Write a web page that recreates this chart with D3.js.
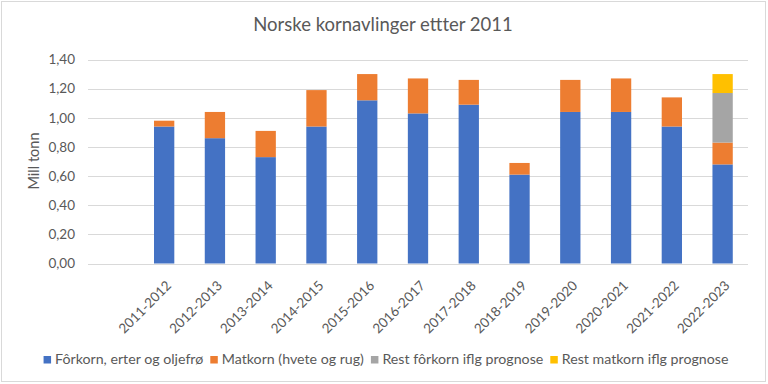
<!DOCTYPE html>
<html>
<head>
<meta charset="utf-8">
<script src="https://cdn.jsdelivr.net/npm/d3@7"></script>
<style>
    body { margin: 0; background: #fff; }
    text { font-family: Lato, "Open Sans", sans-serif; fill: #595959; }
</style>
</head>
<body>
<svg id="chart" width="768" height="384"></svg>
<script>
(function() {
    'use strict';

    // first category is blank, like the source spreadsheet
    var seasons = ['', '2011-2012', '2012-2013', '2013-2014', '2014-2015', '2015-2016',
                   '2016-2017', '2017-2018', '2018-2019', '2019-2020', '2020-2021',
                   '2021-2022', '2022-2023'];
    var forkorn     = [0, 0.94, 0.86, 0.73, 0.94, 1.12, 1.03, 1.09, 0.61, 1.04, 1.04, 0.94, 0.68];
    var matkorn     = [0, 0.04, 0.18, 0.18, 0.25, 0.18, 0.24, 0.17, 0.08, 0.22, 0.23, 0.20, 0.15];
    var restForkorn = [0, 0, 0, 0, 0, 0, 0, 0, 0, 0, 0, 0, 0.34];
    var restMatkorn = [0, 0, 0, 0, 0, 0, 0, 0, 0, 0, 0, 0, 0.13];
    var yTicks = [0, 0.2, 0.4, 0.6, 0.8, 1.0, 1.2, 1.4];

    var seriesNames = ['Fôrkorn, erter og oljefrø', 'Matkorn (hvete og rug)',
                       'Rest fôrkorn iflg prognose', 'Rest matkorn iflg prognose'];
    var seriesColors = ['#4472C4', '#ED7D31', '#A5A5A5', '#FFC000'];
    var keys = ['a', 'b', 'c', 'd'];

    var rows = seasons.map(function(s, i) {
        return { season: s, a: forkorn[i], b: matkorn[i], c: restForkorn[i], d: restMatkorn[i] };
    });

    var svg = d3.select('#chart');

    /******************************************************************
        frame + title
     ******************************************************************/
    svg.append('rect')
        .attr('x', 1.5).attr('y', 1.5)
        .attr('width', 764).attr('height', 380)
        .attr('fill', '#fff')
        .attr('stroke', '#d9d9d9');

    svg.append('text')
        .attr('x', 383).attr('y', 31)
        .attr('text-anchor', 'middle')
        .style('font-size', '18.5px')
        .text('Norske kornavlinger ettter 2011');

    /******************************************************************
        scales
     ******************************************************************/
    var x = d3.scaleBand().domain(seasons).range([88, 748]).paddingInner(0.6).paddingOuter(0.3);
    var y = d3.scaleLinear().domain([0, 1.4]).range([263.5, 59.5]);
    var fmt = function(v) { return d3.format('.2f')(v).replace('.', ','); };

    // grid
    svg.append('g').selectAll('line')
        .data(yTicks)
        .join('line')
            .attr('x1', 88).attr('x2', 748)
            .attr('y1', function(d) { return Math.round(y(d)) + 0.5; })
            .attr('y2', function(d) { return Math.round(y(d)) + 0.5; })
            .attr('stroke', '#d9d9d9')
            .attr('stroke-width', 1);

    var yAxis = svg.append('g')
        .attr('transform', 'translate(88,0)')
        .call(d3.axisLeft(y).tickValues(yTicks).tickFormat(fmt).tickSize(0).tickPadding(13));
    yAxis.select('.domain').remove();
    yAxis.selectAll('text').style('font-size', '13.5px').attr('fill', '#595959');

    svg.append('text')
        .attr('transform', 'translate(39,161) rotate(-90)')
        .attr('text-anchor', 'middle')
        .style('font-size', '14.5px')
        .text('Mill tonn');

    /******************************************************************
        stacked bars
     ******************************************************************/
    var stacked = d3.stack().keys(keys)(rows);

    svg.append('g').selectAll('g')
        .data(stacked)
        .join('g')
            .attr('fill', function(d, i) { return seriesColors[i]; })
        .selectAll('rect')
        .data(function(d) { return d.filter(function(p) { return p[1] - p[0] > 0; }); })
        .join('rect')
            .attr('x', function(d) { return x(d.data.season); })
            .attr('width', x.bandwidth())
            .attr('y', function(d) { return y(d[1]); })
            .attr('height', function(d) { return y(d[0]) - y(d[1]); });

    // category labels
    var xAxis = svg.append('g')
        .attr('transform', 'translate(0,263.5)')
        .call(d3.axisBottom(x).tickSize(0).tickPadding(0));
    xAxis.select('.domain').remove();
    xAxis.selectAll('text')
        .style('font-size', '13.5px')
        .attr('fill', '#595959')
        .attr('text-anchor', 'end')
        .attr('dy', 0)
        .attr('transform', 'translate(8,23) rotate(-45)');

    /******************************************************************
        legend
     ******************************************************************/
    var legend = svg.append('g').attr('transform', 'translate(0,364)');
    var cursor = 0;
    seriesNames.forEach(function(name, i) {
        var item = legend.append('g').attr('transform', 'translate(' + cursor + ',0)');
        item.append('rect')
            .attr('x', 0).attr('y', -8)
            .attr('width', 7.5).attr('height', 7.5)
            .attr('fill', seriesColors[i]);
        var t = item.append('text')
            .attr('x', 11.5)
            .style('font-size', '14.2px')
            .text(name);
        cursor += 11.5 + t.node().getComputedTextLength() + 7;
    });
    var total = cursor - 7;
    legend.attr('transform', 'translate(' + (386 - total / 2) + ',364)');
})();
</script>
</body>
</html>
